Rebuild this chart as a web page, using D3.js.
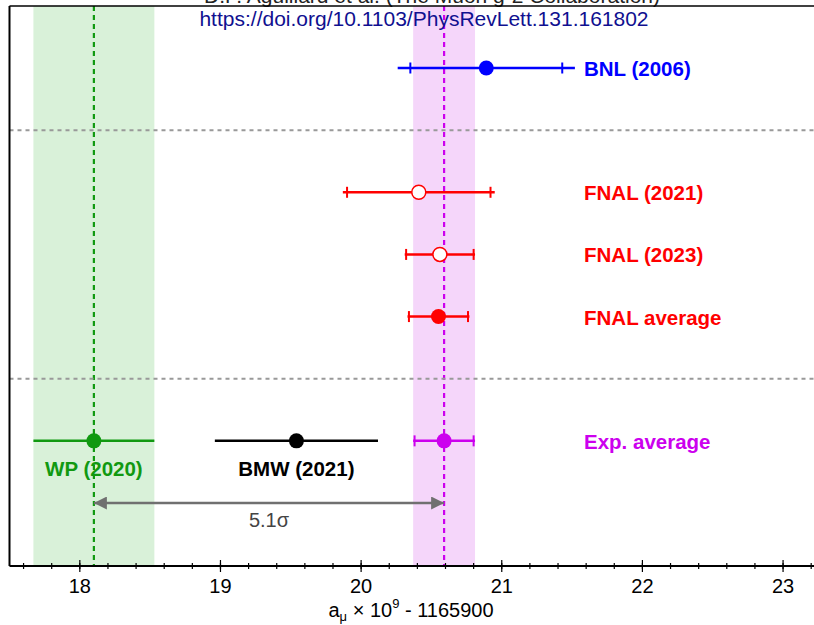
<!DOCTYPE html>
<html>
<head>
<meta charset="utf-8">
<script src="https://cdn.jsdelivr.net/npm/d3@7"></script>
<style>
body { margin: 0; background: #fff; }
svg { display: block; font-family: "Liberation Sans", Arial, sans-serif; }
</style>
</head>
<body>
<div id="chart"></div>
<script>
// rows of the plot, top to bottom
var rows = ["bnl", "sep1", "fnal21", "fnal23", "fnalavg", "sep2", "avg", "arrow"];

// measurements: a_mu x 1e9 - 1165900
var names   = ["BNL (2006)", "FNAL (2021)", "FNAL (2023)", "FNAL average", "Exp. average", "WP (2020)", "BMW (2021)"];
var rowOf   = ["bnl", "fnal21", "fnal23", "fnalavg", "avg", "avg", "avg"];
var centers = [20.89, 20.41, 20.56, 20.55, 20.59, 18.10, 19.54];
var errTot  = [0.63, 0.54, 0.25, 0.22, 0.22, 0.43, 0.58];
var errStat = [0.54, 0.51, 0.24, 0.21, 0.21, null, null];
var hollow  = [false, true, true, false, false, false, false];

// bands: WP theory and experimental average
var bandCenters = [18.10, 20.59];
var bandErr = [0.43, 0.22];

var xTicks = [18, 19, 20, 21, 22, 23];
var sigmaText = "5.1\u03c3";

var colorOf = {
  "BNL (2006)": "#0000ff", "FNAL (2021)": "#ff0000", "FNAL (2023)": "#ff0000",
  "FNAL average": "#ff0000", "Exp. average": "#cc00ee", "WP (2020)": "#119911",
  "BMW (2021)": "#000000"
};

var width = 814, height = 625;
var svg = d3.select("#chart").append("svg")
    .attr("width", width).attr("height", height);

var x = d3.scaleLinear().domain([17.5, 23.22]).range([9.5, 814]);
var y = d3.scalePoint().domain(rows).range([68, 503]);
var yTop = 6, yBottom = 566;

// bands
var bandFill = ["#d9f1d9", "#f5d6fa"];
svg.append("g").selectAll("rect").data(bandCenters).enter().append("rect")
    .attr("x", function (d, i) { return x(d - bandErr[i]); })
    .attr("width", function (d, i) { return x(d + bandErr[i]) - x(d - bandErr[i]); })
    .attr("y", yTop).attr("height", yBottom - yTop)
    .attr("fill", function (d, i) { return bandFill[i]; });

// vertical dashed centre lines
var bandLine = ["#119911", "#cc00ee"];
svg.append("g").selectAll("line").data(bandCenters).enter().append("line")
    .attr("x1", function (d) { return x(d); }).attr("x2", function (d) { return x(d); })
    .attr("y1", yTop).attr("y2", yBottom)
    .attr("stroke", function (d, i) { return bandLine[i]; })
    .attr("stroke-width", 2.2)
    .attr("stroke-dasharray", "5,4");

// gray separators
svg.append("g").selectAll("line").data(["sep1", "sep2"]).enter().append("line")
    .attr("x1", x.range()[0]).attr("x2", width)
    .attr("y1", function (d) { return y(d); }).attr("y2", function (d) { return y(d); })
    .attr("stroke", "#999").attr("stroke-width", 2)
    .attr("stroke-dasharray", "4,4");

// header text (partly above the page, as in the original)
svg.append("text").attr("x", 432).attr("y", 3).attr("text-anchor", "middle")
    .attr("font-size", 21).attr("fill", "#222")
    .text("D.P. Aguillard et al. (The Muon g-2 Collaboration)");
svg.append("text").attr("x", 424).attr("y", 26).attr("text-anchor", "middle")
    .attr("font-size", 21).attr("fill", "#101090")
    .text("https://doi.org/10.1103/PhysRevLett.131.161802");

// frame
svg.append("line").attr("x1", x.range()[0]).attr("x2", width)
    .attr("y1", yTop).attr("y2", yTop).attr("stroke", "#000").attr("stroke-width", 1.5);
svg.append("line").attr("x1", x.range()[0]).attr("x2", x.range()[0])
    .attr("y1", yTop).attr("y2", yBottom).attr("stroke", "#000").attr("stroke-width", 2);

// error bars
var idx = d3.range(names.length);
var g = svg.append("g");
g.selectAll(".bar").data(idx).enter().append("line")
    .attr("x1", function (i) { return x(centers[i] - errTot[i]); })
    .attr("x2", function (i) { return x(centers[i] + errTot[i]); })
    .attr("y1", function (i) { return y(rowOf[i]); })
    .attr("y2", function (i) { return y(rowOf[i]); })
    .attr("stroke", function (i) { return colorOf[names[i]]; })
    .attr("stroke-width", 2.5);

var tickData = [];
idx.forEach(function (i) {
  if (errStat[i] !== null) {
    tickData.push({ i: i, v: centers[i] - errStat[i] });
    tickData.push({ i: i, v: centers[i] + errStat[i] });
  }
});
g.selectAll(".tk").data(tickData).enter().append("line")
    .attr("x1", function (d) { return x(d.v); }).attr("x2", function (d) { return x(d.v); })
    .attr("y1", function (d) { return y(rowOf[d.i]) - 5.5; })
    .attr("y2", function (d) { return y(rowOf[d.i]) + 5.5; })
    .attr("stroke", function (d) { return colorOf[names[d.i]]; })
    .attr("stroke-width", 2);

g.selectAll("circle").data(idx).enter().append("circle")
    .attr("cx", function (i) { return x(centers[i]); })
    .attr("cy", function (i) { return y(rowOf[i]); })
    .attr("r", function (i) { return hollow[i] ? 7 : 7.5; })
    .attr("fill", function (i) { return hollow[i] ? "#fff" : colorOf[names[i]]; })
    .attr("stroke", function (i) { return colorOf[names[i]]; })
    .attr("stroke-width", function (i) { return hollow[i] ? 1.5 : 0; });

// labels
idx.forEach(function (i) {
  var under = names[i] === "WP (2020)" || names[i] === "BMW (2021)";
  svg.append("text")
      .attr("x", under ? x(centers[i]) : 584)
      .attr("y", y(rowOf[i]) + (under ? 35 : 8))
      .attr("text-anchor", under ? "middle" : "start")
      .attr("font-size", 20.5).attr("font-weight", "bold")
      .attr("fill", colorOf[names[i]])
      .text(names[i]);
});

// 5.1 sigma arrow
var defs = svg.append("defs");
defs.append("marker").attr("id", "ah").attr("viewBox", "0 0 10 10")
    .attr("refX", 10).attr("refY", 5).attr("markerWidth", 18).attr("markerHeight", 13)
    .attr("markerUnits", "userSpaceOnUse").attr("orient", "auto-start-reverse")
    .append("path").attr("d", "M0,0 L10,5 L0,10 z").attr("fill", "#707070");
svg.append("line")
    .attr("x1", x(bandCenters[0])).attr("x2", x(bandCenters[1]))
    .attr("y1", y("arrow")).attr("y2", y("arrow"))
    .attr("stroke", "#707070").attr("stroke-width", 2.5)
    .attr("marker-start", "url(#ah)").attr("marker-end", "url(#ah)");
svg.append("text").attr("x", 269).attr("y", y("arrow") + 24)
    .attr("text-anchor", "middle").attr("font-size", 20).attr("fill", "#444")
    .text(sigmaText);

// x axis
var ax = svg.append("g").attr("transform", "translate(0," + yBottom + ")");
ax.append("line").attr("x1", x.range()[0]).attr("x2", width)
    .attr("stroke", "#000").attr("stroke-width", 2);
var minor = d3.range(17.6, 23.21, 0.2);
ax.selectAll(".mn").data(minor).enter().append("line")
    .attr("x1", function (d) { return x(d); }).attr("x2", function (d) { return x(d); })
    .attr("y1", -3).attr("y2", 3).attr("stroke", "#000").attr("stroke-width", 1.2);
ax.selectAll(".mj").data(xTicks).enter().append("line")
    .attr("x1", function (d) { return x(d); }).attr("x2", function (d) { return x(d); })
    .attr("y1", -6).attr("y2", 6).attr("stroke", "#000").attr("stroke-width", 1.2);
ax.selectAll("text").data(xTicks).enter().append("text")
    .attr("x", function (d) { return x(d); }).attr("y", 27)
    .attr("text-anchor", "middle").attr("font-size", 20).attr("fill", "#000")
    .text(function (d) { return d; });

var title = svg.append("text").attr("x", 411).attr("y", 617)
    .attr("text-anchor", "middle").attr("font-size", 20).attr("fill", "#000");
title.append("tspan").text("a");
title.append("tspan").attr("font-size", 13).attr("dy", 4).text("\u03bc");
title.append("tspan").attr("dy", -4).text(" \u00d7 10");
title.append("tspan").attr("font-size", 13).attr("dy", -9).text("9");
title.append("tspan").attr("dy", 9).text(" - 1165900");
</script>
</body>
</html>
